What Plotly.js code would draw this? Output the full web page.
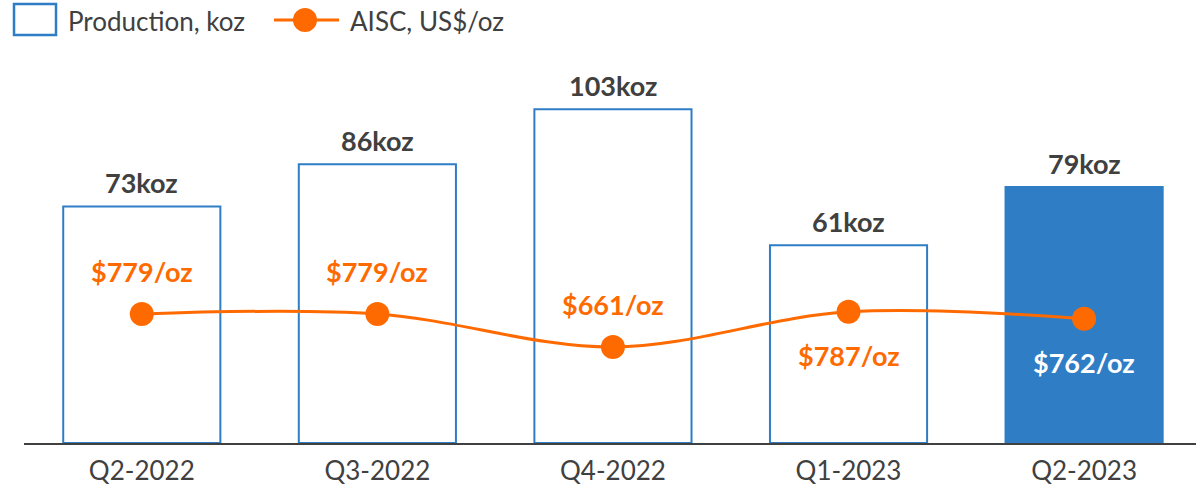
<!DOCTYPE html>
<html><head><meta charset="utf-8">
<script src="https://cdn.plot.ly/plotly-3.0.1.min.js"></script>
<style>html,body{margin:0;padding:0;background:#fff}#chart{width:1196px;height:492px}</style>
</head><body><div id="chart"></div>
<script>
const quarters = ['Q2-2022','Q3-2022','Q4-2022','Q1-2023','Q2-2023'];
const production = [73, 86, 103, 61, 79];
const aisc = [779, 779, 661, 787, 762];
const prodLabels = ['73koz','86koz','103koz','61koz','79koz'];
const aiscLabels = ['$779/oz','$779/oz','$661/oz','$787/oz','$762/oz'];
const aiscLabelBelow = [false, false, false, true, true];

const BLUE = '#2E7DC5', ORANGE = '#FF6A00', DARK = '#404040';
const FONT = 'Lato, "Open Sans", sans-serif';

const barFill = production.map((v,i)=> i===production.length-1 ? BLUE : '#FFFFFF');

const traces = [
  {type:'bar', x:quarters, y:production, width:0.667,
   marker:{color:barFill, line:{color:BLUE, width:2}},
   hoverinfo:'skip', showlegend:false},
  {type:'scatter', mode:'lines+markers', x:quarters, y:aisc, yaxis:'y2',
   line:{color:ORANGE, width:3, shape:'spline', smoothing:1},
   marker:{color:ORANGE, size:24}, hoverinfo:'skip', showlegend:false}
];

const annotations = [];
production.forEach((v,i)=>{
  annotations.push({x:quarters[i], y:v, xref:'x', yref:'y', text:'<b>'+prodLabels[i]+'</b>',
    showarrow:false, yanchor:'middle', yshift:24, font:{family:FONT, size:27, color:DARK}});
});
aisc.forEach((v,i)=>{
  const below = aiscLabelBelow[i];
  const col = i===aisc.length-1 ? '#FFFFFF' : ORANGE;
  annotations.push({x:quarters[i], y:v, xref:'x', yref:'y2', text:'<b>'+aiscLabels[i]+'</b>',
    showarrow:false, yanchor:'middle', yshift: below ? -44 : 43, font:{family:FONT, size:27, color:col}});
});
const px = x => (x-24)/1172, py = y => (443-y)/383;
// custom legend
annotations.push({xref:'paper', yref:'paper', x:px(66), y:py(21), xanchor:'left', yanchor:'middle',
  text:'Production, koz', showarrow:false, font:{family:FONT, size:26, color:DARK}});
annotations.push({xref:'paper', yref:'paper', x:px(348), y:py(21), xanchor:'left', yanchor:'middle',
  text:'AISC, US$/oz', showarrow:false, font:{family:FONT, size:26, color:DARK}});

const shapes = [
  {type:'rect', xref:'paper', yref:'paper', x0:px(14), x1:px(56), y0:py(35), y1:py(4),
   line:{color:BLUE, width:2.5}, fillcolor:'#FFFFFF'},
  {type:'line', xref:'paper', yref:'paper', x0:px(274), x1:px(339), y0:py(20), y1:py(20),
   line:{color:ORANGE, width:3}},
  {type:'circle', xref:'paper', yref:'paper', x0:px(293), x1:px(317), y0:py(32), y1:py(8),
   line:{color:ORANGE, width:0}, fillcolor:ORANGE}
];

const layout = {
  width:1196, height:492,
  margin:{l:24, r:0, t:60, b:49},
  paper_bgcolor:'#FFFFFF', plot_bgcolor:'#FFFFFF',
  showlegend:false,
  font:{family:FONT, color:DARK},
  xaxis:{type:'category', range:[-0.5, 4.475], showgrid:false, zeroline:false,
    showline:true, linecolor:DARK, linewidth:1.5, ticks:'', ticklabelstandoff:4,
    tickfont:{family:FONT, size:26, color:DARK}, fixedrange:true},
  yaxis:{range:[0, 383/3.24], visible:false, showgrid:false, zeroline:false, fixedrange:true},
  yaxis2:{overlaying:'y', side:'right', range:[779-129/0.28, 779+254/0.28], visible:false,
    showgrid:false, zeroline:false, fixedrange:true},
  annotations:annotations, shapes:shapes
};
Plotly.newPlot('chart', traces, layout, {displayModeBar:false, staticPlot:true});
</script></body></html>
